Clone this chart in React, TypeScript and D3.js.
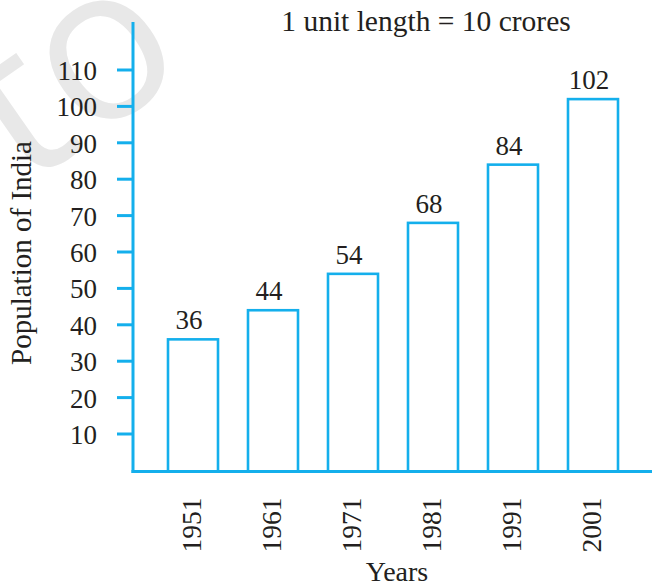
import React from "react";
import * as d3 from "d3";

const years = ["1951", "1961", "1971", "1981", "1991", "2001"];
const population = [36, 44, 54, 68, 84, 102];
const yTicks = [10, 20, 30, 40, 50, 60, 70, 80, 90, 100, 110];
const titleText = "1 unit length = 10 crores";
const xTitle = "Years";
const yTitle = "Population of India";
const watermark = "to";

const W = 654;
const H = 588;
const BLUE = "#14afec";
const FONT = "'Liberation Serif', 'Times New Roman', serif";
const TEXT = "#231f20";

export default function App() {
  const y = d3.scaleLinear().domain([0, 110]).range([470.4, 70]);
  const x = d3.scaleBand<string>().domain(years).range([138, 648]).paddingInner(0.375).paddingOuter(0.375);
  const axisX = 133;
  const baseY = 471.5;
  const bw = x.bandwidth();

  return (
    <svg width={W} height={H} style={{ position: "absolute", left: 0, top: 0, background: "#fff" }}>
      {/* watermark */}
      <text
        transform="translate(24,188) rotate(-35)"
        fontFamily="'Open Sans', 'DejaVu Sans', sans-serif"
        fontSize={215}
        fill="#e8e8e8"
      >
        {watermark}
      </text>

      {/* title */}
      <text x={426} y={31} textAnchor="middle" fontFamily={FONT} fontSize={29.5} fill={TEXT}>
        {titleText}
      </text>

      {/* y axis */}
      <line x1={axisX} x2={axisX} y1={22} y2={baseY + 1.5} stroke={BLUE} strokeWidth={3} />
      <line x1={axisX - 1.5} x2={652} y1={baseY} y2={baseY} stroke={BLUE} strokeWidth={3} />
      {yTicks.map((t) => (
        <g key={t}>
          <line x1={117} x2={axisX} y1={y(t)} y2={y(t)} stroke={BLUE} strokeWidth={3} />
          <text x={97} y={y(t) + 10} textAnchor="end" fontFamily={FONT} fontSize={27} fill={TEXT}>
            {t}
          </text>
        </g>
      ))}

      {/* bars */}
      {years.map((yr, i) => {
        const x0 = x(yr)!;
        const v = population[i];
        return (
          <g key={yr}>
            <rect
              x={x0}
              y={y(v)}
              width={bw}
              height={baseY - y(v)}
              fill="none"
              stroke={BLUE}
              strokeWidth={2.6}
            />
            <text
              x={x0 + bw / 2 - 4}
              y={y(v) - 10}
              textAnchor="middle"
              fontFamily={FONT}
              fontSize={27}
              fill={TEXT}
            >
              {v}
            </text>
            <text
              transform={`translate(${x0 + bw / 2 + 8},${525}) rotate(-90)`}
              textAnchor="middle"
              fontFamily={FONT}
              fontSize={27.5}
              fill={TEXT}
            >
              {yr}
            </text>
          </g>
        );
      })}

      {/* axis titles */}
      <text x={397} y={581} textAnchor="middle" fontFamily={FONT} fontSize={28} fill={TEXT}>
        {xTitle}
      </text>
      <text
        transform="translate(31,253) rotate(-90)"
        textAnchor="middle"
        fontFamily={FONT}
        fontSize={29}
        fill={TEXT}
      >
        {yTitle}
      </text>
    </svg>
  );
}
